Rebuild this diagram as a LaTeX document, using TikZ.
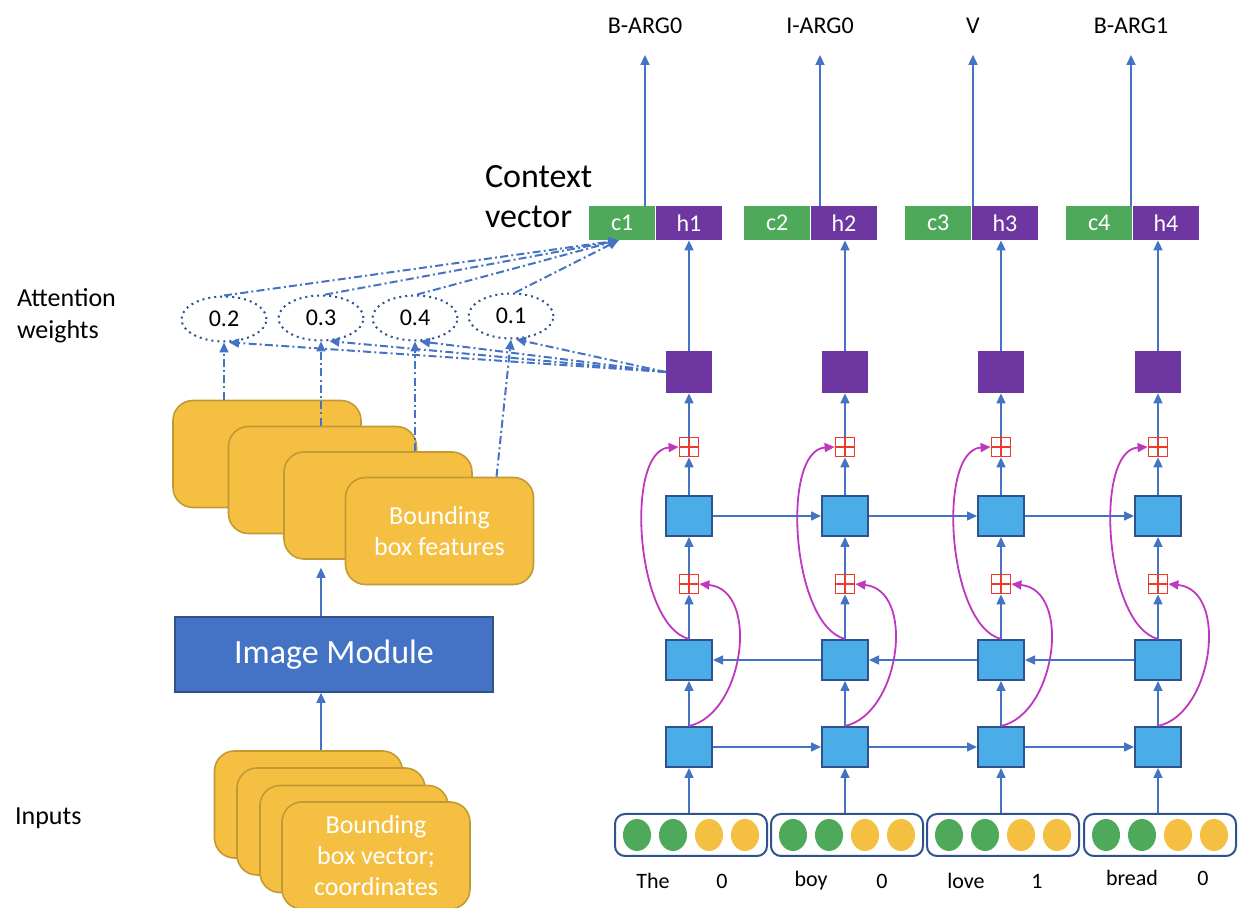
\documentclass[tikz,border=0pt]{standalone}
\usepackage{fontspec}
\setmainfont{Carlito}
\usetikzlibrary{shapes.geometric, arrows.meta, positioning, calc}

\definecolor{arrowblue}{HTML}{4472C4}
\definecolor{celledge}{HTML}{2F528F}
\definecolor{cellblue}{HTML}{4BADE8}
\definecolor{ctxgreen}{HTML}{4EAA5A}
\definecolor{hidpurple}{HTML}{6E36A0}
\definecolor{featyellow}{HTML}{F5BF42}
\definecolor{featedge}{HTML}{C29A35}
\definecolor{skipmag}{HTML}{BF36BF}
\definecolor{plusred}{HTML}{EE3A2A}

\begin{document}
\begin{tikzpicture}[
    x=0.5pt, y=-0.5pt,
    conn/.style={draw=arrowblue, line width=0.8pt, -{Triangle[length=5pt, width=4.5pt]}},
    dashconn/.style={conn, line width=1pt, dash pattern=on 4pt off 1.6pt on 1pt off 1.6pt},
    skip/.style={draw=skipmag, line width=0.9pt, -{Triangle[length=5pt, width=4.5pt]}},
    cell/.style={draw=celledge, fill=cellblue, line width=1pt, minimum width=23pt, minimum height=20pt},
    plus/.style={draw=plusred, fill=white, line width=0.9pt, minimum size=9.5pt, inner sep=0pt,
        path picture={\draw[plusred, line width=0.9pt]
            (path picture bounding box.north) -- (path picture bounding box.south)
            (path picture bounding box.west) -- (path picture bounding box.east);}},
    att/.style={fill=hidpurple, minimum width=23pt, minimum height=21pt},
    ctx/.style={fill=ctxgreen, text=white, minimum width=33pt, minimum height=17pt, inner sep=0pt, font=\fontsize{12}{14}\selectfont},
    hid/.style={ctx, fill=hidpurple},
    weight/.style={draw=celledge, dotted, line width=1pt, ellipse, minimum width=42.5pt, minimum height=22.5pt, font=\fontsize{12}{14}\selectfont},
    feat/.style={draw=featedge, fill=featyellow, line width=0.8pt, rounded corners=10pt, minimum width=94pt, minimum height=53.5pt,
        text=white, align=center, font=\fontsize{13}{15.5}\selectfont},
    imgbox/.style={draw=celledge, fill=arrowblue, line width=0.8pt, minimum width=159pt, minimum height=37.5pt, text=white, font=\fontsize{17}{20}\selectfont},
    inbox/.style={draw=celledge, line width=1pt, rounded corners=5pt, minimum width=76pt, minimum height=21pt},
    dot/.style={ellipse, minimum width=14pt, minimum height=16pt, inner sep=0pt},
    word/.style={font=\fontsize{11}{13}\selectfont},
    tag/.style={font=\fontsize{12}{14}\selectfont},
    side text/.style={align=left, anchor=west, font=\fontsize{13}{16}\selectfont}
]
\useasboundingbox (0,0) rectangle (1238,908);

% ====================
% Side labels
% ====================
\node[side text, font=\fontsize{17}{20}\selectfont] (ctxlabel) at (478,197) {Context\\vector};
\node[side text] (attlabel) at (10,316) {Attention\\weights};
\node[side text] (inlabel) at (8,818) {Inputs};

% ====================
% Image branch
% ====================
\node[feat] (ib1) at (308.5,804.5) {};
\node[feat] (ib2) at (331,821.5) {};
\node[feat] (ib3) at (354,839) {};
\node[feat] (ib4) at (376,855.5) {Bounding\\box vector;\\coordinates};

\node[imgbox] (img) at (334,654.5) {Image Module};

\node[feat] (fb1) at (267,454) {};
\node[feat] (fb2) at (322.5,480) {};
\node[feat] (fb3) at (378,505.5) {};
\node[feat] (fb4) at (439.5,531) {Bounding\\box features};

\coordinate (imgin) at ($(img.south)+(-13,0)$);
\coordinate (imgout) at ($(img.north)+(-13,0)$);
\draw[conn] (ib1.north -| imgin) -- (imgin);
\draw[conn, shorten >=4pt] (imgout) -- (fb3.south -| imgout);

% Attention weights
\node[weight] (w0) at (224,319) {0.2};
\node[weight] (w1) at (321,318) {0.3};
\node[weight] (w2) at (415,318) {0.4};
\node[weight] (w3) at (511,316) {0.1};

\coordinate (f3top) at ($(fb4.north)+(57,0)$);
\draw[dashconn] (w0.south |- fb1.north) -- (w0.south);
\draw[dashconn] (w1.south |- fb2.north) -- (w1.south);
\draw[dashconn] (w2.south |- fb3.north) -- (w2.south);
\draw[dashconn] (f3top) -- (w3.south);

% ====================
% Columns
% ====================
\foreach \i/\x/\hx/\ax/\tag in {1/689/689/645/B-ARG0, 2/845/844/820/I-ARG0, 3/1001/1005/973/V, 4/1158/1166/1131/B-ARG1} {
    \node[inbox] (in\i) at (\x+2,835) {};
    \foreach \k/\d/\c in {1/-54/ctxgreen, 2/-18/ctxgreen, 3/18/featyellow, 4/54/featyellow}
        \node[dot, fill=\c] (d\i\k) at ($(in\i)+(\d,0)$) {};

    \node[cell] (bot\i) at (\x,747) {};
    \node[cell] (mid\i) at (\x,660) {};
    \node[plus] (pb\i) at (\x,584) {};
    \node[cell] (top\i) at (\x,516) {};
    \node[plus] (pa\i) at (\x,447) {};
    \node[att] (att\i) at (\x,372) {};
    \node[hid] (h\i) at (\hx,223) {h\i};
    \node[ctx, left=0pt of h\i] (c\i) {c\i};
    \node[tag] (lab\i) at (\ax,26) {\tag};
    \coordinate (out\i) at (\ax,206);

    \draw[conn] (in\i.north -| bot\i) -- (bot\i);
    \draw[conn] (bot\i) -- (mid\i);
    \draw[conn] (mid\i) -- (pb\i);
    \draw[conn] (pb\i) -- (top\i);
    \draw[conn] (top\i) -- (pa\i);
    \draw[conn] (pa\i) -- (att\i);
    \draw[conn] (att\i) -- (att\i |- h\i.south);
    \draw[conn, shorten >=7pt] (out\i) -- (lab\i.south -| out\i);

    % skip connections
    \draw[skip] (bot\i.north) .. controls +(55,-12) and +(61,6) .. (pb\i.east);
    \draw[skip] (mid\i.north) .. controls +(-54,-14) and +(-54,3) .. (pa\i.west);
}

\foreach \i/\j in {1/2, 2/3, 3/4} {
    \draw[conn] (top\i) -- (top\j);
    \draw[conn] (mid\j) -- (mid\i);
    \draw[conn] (bot\i) -- (bot\j);
}

% Words under the inputs
\node[word] (t1) at (653,881) {The};
\node[word] (n1) at (722,881) {0};
\node[word] (t2) at (811,881) {boy};
\node[word] (n2) at (882,881) {0};
\node[word] (t3) at (966,881) {love};
\node[word] (n3) at (1037,881) {1};
\node[word] (t4) at (1132,878) {bread};
\node[word] (n4) at (1203,878) {0};

% ====================
% Attention links
% ====================
\draw[dashconn] (att1.west) -- (w0.-78);
\draw[dashconn] (att1.west) -- (w1.-70);
\draw[dashconn] (att1.west) -- (w2.-78);
\draw[dashconn] (att1.west) -- (w3.-78);

\draw[dashconn] (w0.north) -- (c1.-100);
\draw[dashconn] (w1.80) -- (c1.-100);
\draw[dashconn] (w2.85) -- (c1.-102);
\draw[dashconn] (w3.80) -- (c1.-102);

\end{tikzpicture}
\end{document}
